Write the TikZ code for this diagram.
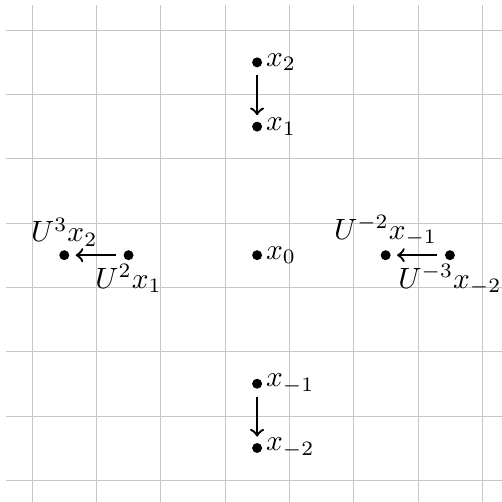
\documentclass[tikz,border=0pt]{standalone}
\usetikzlibrary{arrows}
\begin{document}
\begin{tikzpicture}[scale=0.77,>=to,pt/.style={circle,fill,inner sep=1.2pt},
    every label/.style={inner sep=1pt},
    arr/.style={->,thick,shorten <=2.5pt,shorten >=2pt}]
        \useasboundingbox (-4.0,-3.84) rectangle (3.81,3.97);
        % --- griglia ---
        \draw[help lines,gray!45,shift={(0.5,0.5)}] (-4.4,-4.4) grid (3.4,3.4);
        % --- asse verticale ---
        \node[pt,label=right:$x_2$] (x2) at (0,3) {};
        \node[pt,label=right:$x_1$] (x1) at (0,2) {};
        \node[pt,label=right:$x_0$] (x0) at (0,0) {};
        \node[pt,label=right:$x_{-1}$] (xm1) at (0,-2) {};
        \node[pt,label=right:$x_{-2}$] (xm2) at (0,-3) {};
        % --- asse orizzontale ---
        \node[pt,label=above:$U^3x_2$] (ux2) at (-3,0) {};
        \node[pt,label=below:$U^2x_1$] (ux1) at (-2,0) {};
        \node[pt,label=above:$U^{-2}x_{-1}$] (uxm1) at (2,0) {};
        \node[pt,label=below:$U^{-3}x_{-2}$] (uxm2) at (3,0) {};
        % --- frecce ---
        \draw[arr] (x2) -- (x1);
        \draw[arr] (xm1) -- (xm2);
        \draw[arr] (ux1) -- (ux2);
        \draw[arr] (uxm2) -- (uxm1);
    \end{tikzpicture}
\end{document}
